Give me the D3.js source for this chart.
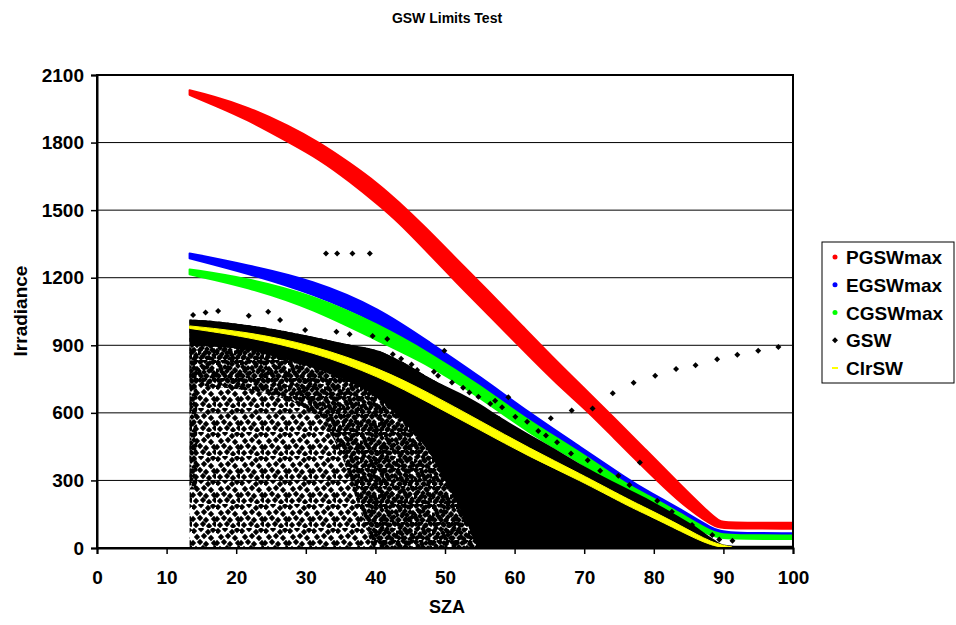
<!DOCTYPE html>
<html>
<head>
<meta charset="utf-8">
<script src="https://cdn.jsdelivr.net/npm/d3@7"></script>
<style>
  html, body { margin: 0; padding: 0; background: #fff; }
  svg { display: block; font-family: "Liberation Sans", Arial, sans-serif; font-weight: bold; }
</style>
</head>
<body>
<svg id="chart" width="956" height="625"></svg>
<script>
// ---------------- DATA ----------------
const seriesNames = ["PGSWmax", "EGSWmax", "CGSWmax", "GSW", "ClrSW"];
const seriesColors = ["#FF0000", "#0000FF", "#00FF00", "#000000", "#FFFF00"];
const xTicks = [0, 10, 20, 30, 40, 50, 60, 70, 80, 90, 100];
const yTicks = [0, 300, 600, 900, 1200, 1500, 1800, 2100];

// bands: [SZA, lower, upper]
const pgswBand = [[13.3,2012,2032],[16.7,1968,2006],[21.5,1904,1960],[27.7,1799,1873],[32,1725,1799],
  [36.3,1628,1710],[40.6,1520,1612],[43.2,1450,1540],[47,1330,1430],[51.6,1180,1284],[56,1044,1148],
  [61.2,879,983],[66,730,830],[70.7,602,688],[74.1,494,583],[78.9,346,435],[83.6,206,287],
  [87.5,117,169],[89.4,88,118],[90.4,86,112],[100,86,112]];
const egswBand = [[13.3,1286,1308],[21.5,1220,1257],[31,1131,1190],[40.6,998,1064],[47.8,864,912],
  [55,722,762],[62.1,561,600],[69.3,422,452],[76.5,270,300],[78.9,222,256],[84,140,170],
  [88.4,66,84],[90.5,55,66],[100,55,66]];
const cgswBand = [[13.3,1215,1237],[21.5,1160,1198],[31,1064,1123],[40.6,916,990],[47.8,812,864],
  [55,670,722],[62.1,509,561],[69.3,383,428],[76.5,240,272],[78.9,205,238],[84,122,150],
  [88.4,50,68],[90.5,40,56],[100,40,56]];
const clrswBand = [[13.3,975,986],[21.5,938,960],[31,872,901],[40.6,761,798],[47.8,643,687],
  [55,525,565],[62.1,405,443],[69.3,302,332],[76.5,183,213],[78.9,150,178],[84,72,98],
  [88.4,6,21],[91.2,0,5]];

// GSW point cloud, described by density zones: [SZA, lower, upper]
const gswSparse = [[13.3,0,1015],[16,0,1010],[21.5,0,990],[26,0,968],[31,0,938],[36,0,905],
  [40.6,0,875],[44,0,825],[47.8,0,755],[52,0,685],[56,0,615],[58,0,580]];
const gswMedium = [[13.3,720,1015],[21.5,700,990],[31,600,938],[35,420,910],[38,150,890],
  [40,0,878],[44,0,825],[47.8,0,755],[52,0,685],[56,0,615],[58,0,580]];
const gswEdge = [[13.3,260,1015],[14.4,260,1012]];
const gswSolid = [[13.3,900,1015],[16,895,1010],[21.5,880,990],[26,845,968],[31,800,938],
  [36,740,905],[40.6,660,875],[44,560,825],[47.8,420,755],[50,300,720],[53,120,675],[55,0,640],
  [58,0,580],[62.1,0,505],[65.7,0,442],[69.3,0,375],[74,0,298],[78.9,0,222],[83.6,0,140],
  [86,0,95],[88.4,0,43],[90,0,15],[91.5,0,10],[100,0,10]];
// individual GSW points outside the dense cloud: [SZA, irradiance]
const gswPoints = [[32.9,1308],[34.5,1308],[36.7,1308],[39.2,1308],
  [13.8,1035],[15.6,1046],[17.4,1052],[21.8,1031],[24.6,1049],[26.3,1012],[29.9,968],[34.4,960],
  [36.3,949],[39.6,941],[41.7,928],[40.5,849],[43.7,840],[46.0,790],[48.4,783],[49.9,876],[49.0,765],
  [51.0,735],[52.6,712],[54.8,672],[59.1,669],[57.2,654],[58.2,625],[60.1,583],[61.8,561],[63.4,520],
  [66.1,469],[68.1,420],[72.3,343],[74.9,321],[82.6,161],[85.5,102],[88.4,58],[89.4,38],[91.3,32],
  [53.5,690],[56.5,640],[64.5,500],[70.5,390],[76.5,280],[80.5,210],[45.2,815],[42.5,860],
  [65.2,576],[68.2,610],[71.2,619],[74.1,687],[77.1,734],[80.2,765],[83.2,795],[86.0,811],[89.1,838],
  [92.0,858],[95.0,876],[97.9,892],[78.0,380]];

// ---------------- CHART ----------------
const svg = d3.select("#chart");
const x = d3.scaleLinear().domain([0, 100]).range([97, 793]);
const y = d3.scaleLinear().domain([0, 2100]).range([548, 75]);

const defs = svg.append("defs");
function diamondPath(cx, cy, r) { return `M${cx},${cy-r}L${cx+r},${cy}L${cx},${cy+r}L${cx-r},${cy}Z`; }
function makePattern(id, size, r, pts) {
  const p = defs.append("pattern").attr("id", id).attr("patternUnits", "userSpaceOnUse")
    .attr("width", size).attr("height", size);
  pts.forEach(q => p.append("path").attr("d", diamondPath(q[0], q[1], r)).attr("fill", "#000"));
}
makePattern("sparse", 24, 3.2, [[2,3],[9,1],[16,4],[21,2],[5,9],[12,8],[19,10],[1,15],[8,14],[14,16],[22,15],[4,21],[11,20],[17,22],[23,20]]);
makePattern("medium", 18, 2.9, [[2,2],[7,1],[12,3],[16,1],[4,6],[9,7],[14,8],[1,11],[6,12],[11,11],[16,13],[3,16],[9,16],[14,17]]);

defs.append("clipPath").attr("id","plotclip").append("rect")
  .attr("x", x(0)).attr("y", y(2100)).attr("width", x(100)-x(0)).attr("height", y(0)-y(2100));

// gridlines
svg.append("g").selectAll("line").data(yTicks.filter(v => v > 0 && v < 2100)).join("line")
  .attr("x1", x(0)).attr("x2", x(100)).attr("y1", d => y(d)).attr("y2", d => y(d))
  .attr("stroke", "#000").attr("stroke-width", 1);

const bandArea = d3.area().x(d => x(d[0])).y0(d => y(d[1])).y1(d => y(d[2])).curve(d3.curveBasis);
const zoneArea = d3.area().x(d => x(d[0])).y0(d => y(d[1])).y1(d => y(d[2])).curve(d3.curveMonotoneX);
const plot = svg.append("g").attr("clip-path", "url(#plotclip)");

function band(data, color, sw) {
  plot.append("path").datum(data).attr("d", bandArea).attr("fill", color)
    .attr("stroke", color).attr("stroke-width", sw).attr("stroke-linejoin", "round");
}
band(pgswBand, seriesColors[0], 2);
band(egswBand, seriesColors[1], 2);
band(cgswBand, seriesColors[2], 2);

plot.append("path").datum(gswSparse).attr("d", zoneArea).attr("fill", "url(#sparse)");
plot.append("path").datum(gswMedium).attr("d", zoneArea).attr("fill", "url(#medium)");
plot.append("path").datum(gswEdge).attr("d", zoneArea).attr("fill", "url(#medium)");
plot.append("path").datum(gswSolid).attr("d", zoneArea).attr("fill", "#000");
plot.append("g").selectAll("path").data(gswPoints).join("path")
  .attr("d", d => diamondPath(x(d[0]), y(d[1]), 3)).attr("fill", "#000");

band(clrswBand, seriesColors[4], 1);

// plot frame
svg.append("rect").attr("x", x(0)).attr("y", y(2100)).attr("width", x(100)-x(0)).attr("height", y(0)-y(2100))
  .attr("fill", "none").attr("stroke", "#000").attr("stroke-width", 2);

// axes
const xAxis = svg.append("g").attr("transform", `translate(0,${y(0)})`)
  .call(d3.axisBottom(x).tickValues(xTicks).tickSize(6).tickPadding(17).tickFormat(d3.format("d")));
const yAxis = svg.append("g").attr("transform", `translate(${x(0)},0)`)
  .call(d3.axisLeft(y).tickValues(yTicks).tickSize(6).tickPadding(7).tickFormat(d3.format("d")));
[xAxis, yAxis].forEach(a => {
  a.select(".domain").attr("stroke", "#000").attr("stroke-width", 2);
  a.selectAll(".tick line").attr("stroke", "#000").attr("stroke-width", 1.5);
  a.selectAll("text").attr("fill", "#000").style("font-size", "19px").style("font-weight", "bold")
    .style("font-family", "'Liberation Sans', Arial, sans-serif");
});

// titles
svg.append("text").attr("x", 447).attr("y", 23).attr("text-anchor", "middle")
  .style("font-size", "14px").text("GSW Limits Test");
svg.append("text").attr("x", 447).attr("y", 613).attr("text-anchor", "middle")
  .style("font-size", "18px").text("SZA");
svg.append("text").attr("transform", "translate(27,311) rotate(-90)").attr("text-anchor", "middle")
  .style("font-size", "19px").text("Irradiance");

// legend
const lg = svg.append("g");
lg.append("rect").attr("x", 822).attr("y", 242).attr("width", 132).attr("height", 141)
  .attr("fill", "#fff").attr("stroke", "#000").attr("stroke-width", 1);
const ly = d3.scalePoint().domain(seriesNames).range([257, 368]);
seriesNames.forEach((n, i) => {
  const cy = ly(n);
  if (i < 3) lg.append("circle").attr("cx", 835).attr("cy", cy).attr("r", 2.5).attr("fill", seriesColors[i]);
  else if (i === 3) lg.append("path").attr("d", diamondPath(835, cy, 3)).attr("fill", "#000");
  else lg.append("rect").attr("x", 832).attr("y", cy - 1).attr("width", 6).attr("height", 2).attr("fill", seriesColors[i]);
  lg.append("text").attr("x", 846).attr("y", cy + 7).style("font-size", "19px").text(n);
});
</script>
</body>
</html>
